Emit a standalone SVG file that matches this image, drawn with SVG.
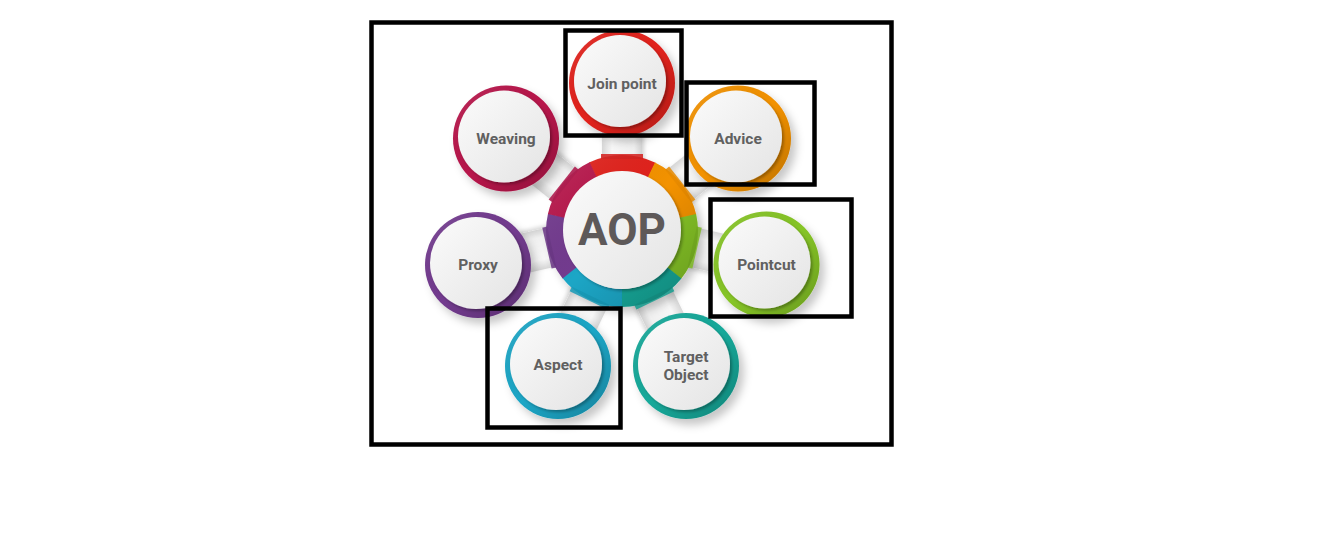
<svg xmlns="http://www.w3.org/2000/svg" width="1339" height="552" viewBox="0 0 1339 552">
<defs>
<style>
.lbl{font-family:Roboto,"Liberation Sans",Arial,sans-serif;font-weight:bold;font-size:15.5px;fill:#606060;text-anchor:middle}
.aop{font-family:Roboto,"Liberation Sans",Arial,sans-serif;font-weight:bold;font-size:44px;fill:#5e5959;text-anchor:middle}
.hl{fill:none;stroke:#000;stroke-width:4.5}
.disc{fill:url(#discGrad);filter:url(#discSh)}
.seg{fill:none;stroke-width:18;stroke-dasharray:60.6 400}
.conn{fill:url(#connGrad);filter:url(#connSh)}
.tab{stroke:none;opacity:0.85}
</style>
<linearGradient id="discGrad" x1="0" y1="0" x2="1" y2="1">
<stop offset="0" stop-color="#fbfbfb"/><stop offset="1" stop-color="#e4e4e4"/>
</linearGradient>
<linearGradient id="ringShade" x1="0" y1="0" x2="1" y2="1">
<stop offset="0" stop-color="#fff" stop-opacity="0.12"/><stop offset="0.5" stop-color="#000" stop-opacity="0"/><stop offset="1" stop-color="#000" stop-opacity="0.22"/>
</linearGradient>
<linearGradient id="connGrad" x1="0" y1="0" x2="0" y2="1">
<stop offset="0" stop-color="#d6d6d6"/><stop offset="0.25" stop-color="#f7f7f7"/><stop offset="0.8" stop-color="#f0f0f0"/><stop offset="1" stop-color="#d2d2d2"/>
</linearGradient>
<filter id="connSh" x="-30%" y="-30%" width="170%" height="170%">
<feDropShadow dx="1" dy="2" stdDeviation="2" flood-color="#000" flood-opacity="0.18"/>
</filter>
<filter id="nodeSh" x="-30%" y="-30%" width="170%" height="170%">
<feDropShadow dx="5" dy="6" stdDeviation="4" flood-color="#000" flood-opacity="0.22"/>
</filter>
<filter id="discSh" x="-30%" y="-30%" width="170%" height="170%">
<feDropShadow dx="2" dy="2" stdDeviation="1.5" flood-color="#000" flood-opacity="0.3"/>
</filter>
</defs>
<rect width="1339" height="552" fill="#fff"/>

<g id="connectors">
<rect class="conn" x="66" y="-20" width="36" height="40" transform="translate(622,231) rotate(-90)"/>
<rect class="conn" x="66" y="-20" width="36" height="40" transform="translate(622,231) rotate(-38.57)"/>
<rect class="conn" x="66" y="-20" width="36" height="40" transform="translate(622,231) rotate(12.86)"/>
<rect class="conn" x="66" y="-20" width="36" height="40" transform="translate(622,231) rotate(64.29)"/>
<rect class="conn" x="66" y="-20" width="36" height="40" transform="translate(622,231) rotate(115.71)"/>
<rect class="conn" x="66" y="-20" width="36" height="40" transform="translate(622,231) rotate(167.14)"/>
<rect class="conn" x="66" y="-20" width="36" height="40" transform="translate(622,231) rotate(218.57)"/>
</g>

<g id="n-aop">
<g filter="url(#nodeSh)">
<circle class="seg" cx="622" cy="231" r="67" stroke="#e2231f" transform="rotate(-115.71 622 231)"/>
<circle class="seg" cx="622" cy="231" r="67" stroke="#f39200" transform="rotate(-64.28 622 231)"/>
<circle class="seg" cx="622" cy="231" r="67" stroke="#86c525" transform="rotate(-12.85 622 231)"/>
<circle class="seg" cx="622" cy="231" r="67" stroke="#18a99a" transform="rotate(38.58 622 231)"/>
<circle class="seg" cx="622" cy="231" r="67" stroke="#1aa6c6" transform="rotate(90 622 231)"/>
<circle class="seg" cx="622" cy="231" r="67" stroke="#733b8f" transform="rotate(141.43 622 231)"/>
<circle class="seg" cx="622" cy="231" r="67" stroke="#b8144b" transform="rotate(192.86 622 231)"/>
</g>
<rect class="tab" x="72" y="-21" width="5" height="42" fill="#d41f1c" transform="translate(622,231) rotate(-90)"/>
<rect class="tab" x="72" y="-21" width="5" height="42" fill="#e68a00" transform="translate(622,231) rotate(-38.57)"/>
<rect class="tab" x="72" y="-21" width="5" height="42" fill="#7cb823" transform="translate(622,231) rotate(12.86)"/>
<rect class="tab" x="72" y="-21" width="5" height="42" fill="#169d8f" transform="translate(622,231) rotate(64.29)"/>
<rect class="tab" x="72" y="-21" width="5" height="42" fill="#189bb9" transform="translate(622,231) rotate(115.71)"/>
<rect class="tab" x="72" y="-21" width="5" height="42" fill="#6a3685" transform="translate(622,231) rotate(167.14)"/>
<rect class="tab" x="72" y="-21" width="5" height="42" fill="#ab1246" transform="translate(622,231) rotate(218.57)"/>
<circle cx="622" cy="231" r="76" fill="url(#ringShade)"/>
<circle class="disc" cx="622" cy="230" r="59"/>
<text class="aop" x="622" y="245">AOP</text>
</g>

<g id="n-joinpoint" transform="translate(622,83)">
<g filter="url(#nodeSh)"><circle r="53" fill="#e2231f"/></g>
<circle r="53" fill="url(#ringShade)"/>
<circle class="disc" cx="-2" cy="-2" r="46"/>
<text class="lbl" x="0" y="5.5">Join point</text>
</g>

<g id="n-advice" transform="translate(738,138.5)">
<g filter="url(#nodeSh)"><circle r="53" fill="#f39200"/></g>
<circle r="53" fill="url(#ringShade)"/>
<circle class="disc" cx="-2" cy="-2" r="46"/>
<text class="lbl" x="0" y="5">Advice</text>
</g>

<g id="n-pointcut" transform="translate(766.5,264.5)">
<g filter="url(#nodeSh)"><circle r="53" fill="#86c525"/></g>
<circle r="53" fill="url(#ringShade)"/>
<circle class="disc" cx="-2" cy="-2" r="46"/>
<text class="lbl" x="0" y="5">Pointcut</text>
</g>

<g id="n-targetobject" transform="translate(686,366)">
<g filter="url(#nodeSh)"><circle r="53" fill="#18a99a"/></g>
<circle r="53" fill="url(#ringShade)"/>
<circle class="disc" cx="-2" cy="-2" r="46"/>
<text class="lbl" x="0" y="-4.5">Target</text>
<text class="lbl" x="0" y="14">Object</text>
</g>

<g id="n-aspect" transform="translate(558,366)">
<g filter="url(#nodeSh)"><circle r="53" fill="#1aa6c6"/></g>
<circle r="53" fill="url(#ringShade)"/>
<circle class="disc" cx="-2" cy="-2" r="46"/>
<text class="lbl" x="0" y="4">Aspect</text>
</g>

<g id="n-proxy" transform="translate(478,265)">
<g filter="url(#nodeSh)"><circle r="53" fill="#733b8f"/></g>
<circle r="53" fill="url(#ringShade)"/>
<circle class="disc" cx="-2" cy="-2" r="46"/>
<text class="lbl" x="0" y="5">Proxy</text>
</g>

<g id="n-weaving" transform="translate(506,138.5)">
<g filter="url(#nodeSh)"><circle r="53" fill="#b8144b"/></g>
<circle r="53" fill="url(#ringShade)"/>
<circle class="disc" cx="-2" cy="-2" r="46"/>
<text class="lbl" x="0" y="5">Weaving</text>
</g>

<g id="highlights">
<rect class="hl" x="371.5" y="22.5" width="520" height="422"/>
<rect class="hl" x="565.5" y="30.5" width="116" height="105"/>
<rect class="hl" x="686.5" y="82.5" width="128" height="102"/>
<rect class="hl" x="710.5" y="199.5" width="141" height="117"/>
<rect class="hl" x="487.5" y="308.5" width="133" height="119"/>
</g>
</svg>
